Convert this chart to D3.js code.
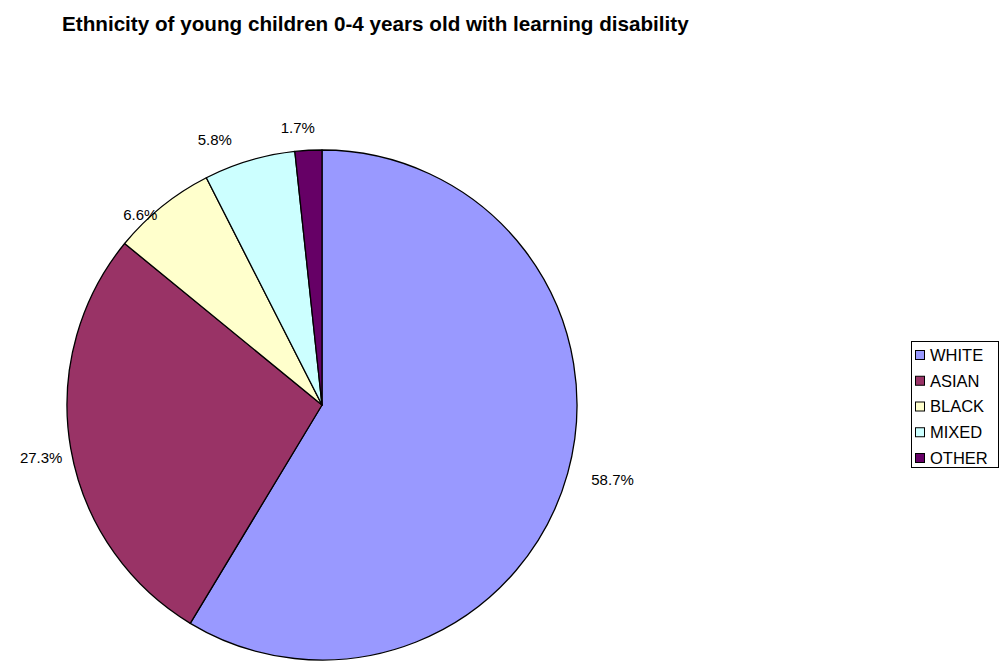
<!DOCTYPE html>
<html><head><meta charset="utf-8">
<script src="https://cdn.jsdelivr.net/npm/d3@7"></script>
<style>
html,body{margin:0;padding:0;background:#fff;}
svg{display:block;font-family:"Liberation Sans",Arial,sans-serif;}
</style></head>
<body><svg id="c" width="1003" height="662"></svg>
<script>
const title = "Ethnicity of young children 0-4 years old with learning disability";
const categories = ["WHITE","ASIAN","BLACK","MIXED","OTHER"];
const values = [58.7, 27.3, 6.6, 5.8, 1.7];
const colors = ["#9999ff","#993366","#ffffcc","#ccffff","#660066"];
// label nudges (layout only, px)
const labelNudge = [[16,-2],[0,4],[-3,32],[-26,8],[-9,7]];

const svg = d3.select("#c");
const cx = 322, cy = 405, R = 255;

const tt = svg.append("text").attr("x",62).attr("y",31)
  .attr("font-size",17).attr("font-weight","bold")
  .text(title);
const tw = tt.node().getComputedTextLength();
tt.attr("font-size", 17*627/tw);

const pie = d3.pie().sort(null).value(d=>d);
const arcs = pie(values);
const arc = d3.arc().innerRadius(0).outerRadius(R);
const labelArc = d3.arc().innerRadius(285).outerRadius(285);

const g = svg.append("g").attr("transform",`translate(${cx},${cy})`);
g.selectAll("path").data(arcs).join("path")
  .attr("d",arc).attr("fill",(d,i)=>colors[i])
  .attr("stroke","#000").attr("stroke-width",1.3).attr("stroke-linejoin","round");

g.selectAll("text.lbl").data(arcs).join("text").attr("class","lbl")
  .attr("x",(d,i)=>labelArc.centroid(d)[0]+labelNudge[i][0])
  .attr("y",(d,i)=>labelArc.centroid(d)[1]+labelNudge[i][1])
  .attr("text-anchor","middle").attr("dy","0.36em")
  .attr("font-size",15).attr("fill","#000")
  .text(d=>d3.format(".1f")(d.data)+"%");

// legend
const lg = svg.append("g").attr("transform","translate(911,341)");
lg.append("rect").attr("x",0.5).attr("y",0.5).attr("width",87).attr("height",126)
  .attr("fill","#fff").attr("stroke","#000").attr("stroke-width",1);
const ly = d3.scalePoint().domain(categories).range([14,117]);
categories.forEach((c,i)=>{
  lg.append("rect").attr("x",4.5).attr("y",ly(c)-4.5).attr("width",9).attr("height",9)
    .attr("fill",colors[i]).attr("stroke","#000").attr("stroke-width",1);
  lg.append("text").attr("x",19).attr("y",ly(c)).attr("dy","0.36em")
    .attr("font-size",16.5).text(c);
});
</script></body></html>
